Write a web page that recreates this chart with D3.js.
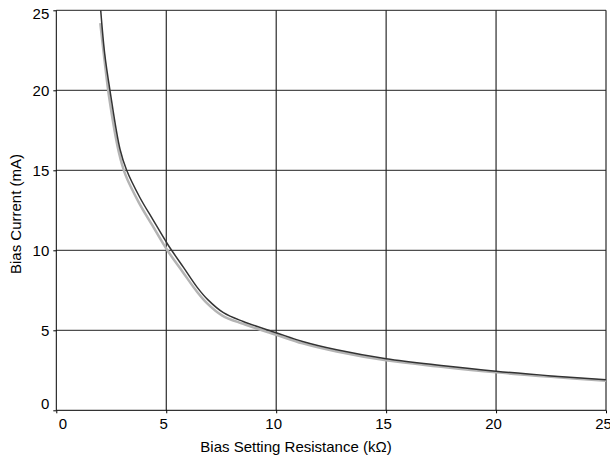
<!DOCTYPE html>
<html lang="en">
<head>
  <meta charset="UTF-8">
  <title>Bias Current vs Bias Setting Resistance</title>
  <script src="https://d3js.org/d3.v7.min.js"></script>
  <style>
    body {
      margin: 0;
      background: #fff;
    }
    svg text {
      font-family: "Liberation Sans", Arial, sans-serif;
      font-size: 15px;
      fill: #000;
    }
  </style>
</head>
<body>
  <div id="chart"></div>

  <script>
    // resistance (kOhm) / current (mA)
    const darkR = [2.02, 2.2, 2.44, 2.9, 3.2, 3.8, 4.4, 5.1, 5.8, 6.4, 6.9, 7.6, 8.5, 10, 11.2, 12.75, 15, 17.5, 20, 22.5, 25];
    const darkI = [25, 22.3, 20, 16.3, 15.0, 13.3, 11.9, 10.3, 8.9, 7.7, 6.9, 6.1, 5.55, 4.85, 4.3, 3.78, 3.22, 2.8, 2.44, 2.15, 1.91];

    const lightR = [2.0, 2.2, 2.4, 2.85, 3.15, 3.75, 4.35, 5.05, 5.75, 6.35, 6.85, 7.55, 8.5, 10, 11.2, 12.75, 15, 17.5, 20, 22.5, 25];
    const lightI = [24.2, 21.8, 19.6, 16.1, 14.7, 13.0, 11.6, 10.0, 8.65, 7.5, 6.7, 5.92, 5.4, 4.72, 4.18, 3.67, 3.12, 2.72, 2.37, 2.09, 1.85];

    const xTicks = [0, 5, 10, 15, 20, 25];
    const yTicks = [0, 5, 10, 15, 20, 25];

    const width = 610;
    const height = 459;
    const margin = { top: 10.3, right: 4, bottom: 48.7, left: 56.3 };

    const x = d3.scaleLinear()
      .domain([0, 25])
      .range([margin.left, width - margin.right]);

    const y = d3.scaleLinear()
      .domain([0, 25])
      .range([height - margin.bottom, margin.top]);

    const svg = d3.select("#chart").append("svg")
      .attr("width", width)
      .attr("height", height);

    // grid
    svg.append("g")
      .selectAll("line")
      .data(xTicks.slice(1))
      .enter().append("line")
        .attr("x1", d => x(d)).attr("x2", d => x(d))
        .attr("y1", y(0)).attr("y2", y(25))
        .attr("stroke", "#000");

    svg.append("g")
      .selectAll("line")
      .data(yTicks.slice(1))
      .enter().append("line")
        .attr("x1", x(0)).attr("x2", x(25))
        .attr("y1", d => y(d)).attr("y2", d => y(d))
        .attr("stroke", "#222");

    // axes
    const xAxis = svg.append("g")
      .attr("transform", `translate(0,${y(0)})`)
      .call(d3.axisBottom(x).tickValues(xTicks).tickSize(3).tickPadding(5));
    xAxis.select(".domain").attr("d", `M${x(0)},0H${x(25)}`);
    xAxis.selectAll(".tick text").attr("dx", d => d === 0 ? 6 : -3);

    const yAxis = svg.append("g")
      .attr("transform", `translate(${x(0)},0)`)
      .call(d3.axisLeft(y).tickValues(yTicks).tickSize(3).tickPadding(4));
    yAxis.select(".domain").attr("d", `M0,${y(0)}V${y(25)}`);
    yAxis.selectAll(".tick text").attr("dy", d => d === 0 ? "-0.1em" : d === 25 ? "0.55em" : "0.32em");

    svg.selectAll(".tick text").style("font-size", "15px");

    // curves
    const line = d3.line()
      .x(d => x(d[0]))
      .y(d => y(d[1]))
      .curve(d3.curveCatmullRom);

    svg.append("path")
      .datum(lightR.map((r, i) => [r, lightI[i]]))
      .attr("d", line)
      .attr("fill", "none")
      .attr("stroke", "#b4b4b4")
      .attr("stroke-width", 2.5);

    svg.append("path")
      .datum(darkR.map((r, i) => [r, darkI[i]]))
      .attr("d", line)
      .attr("fill", "none")
      .attr("stroke", "#333")
      .attr("stroke-width", 1.5);

    // titles
    svg.append("text")
      .attr("x", 296)
      .attr("y", 452)
      .attr("text-anchor", "middle")
      .text("Bias Setting Resistance (kΩ)");

    svg.append("text")
      .attr("transform", "translate(21,214) rotate(-90)")
      .attr("text-anchor", "middle")
      .text("Bias Current (mA)");
  </script>
</body>
</html>
